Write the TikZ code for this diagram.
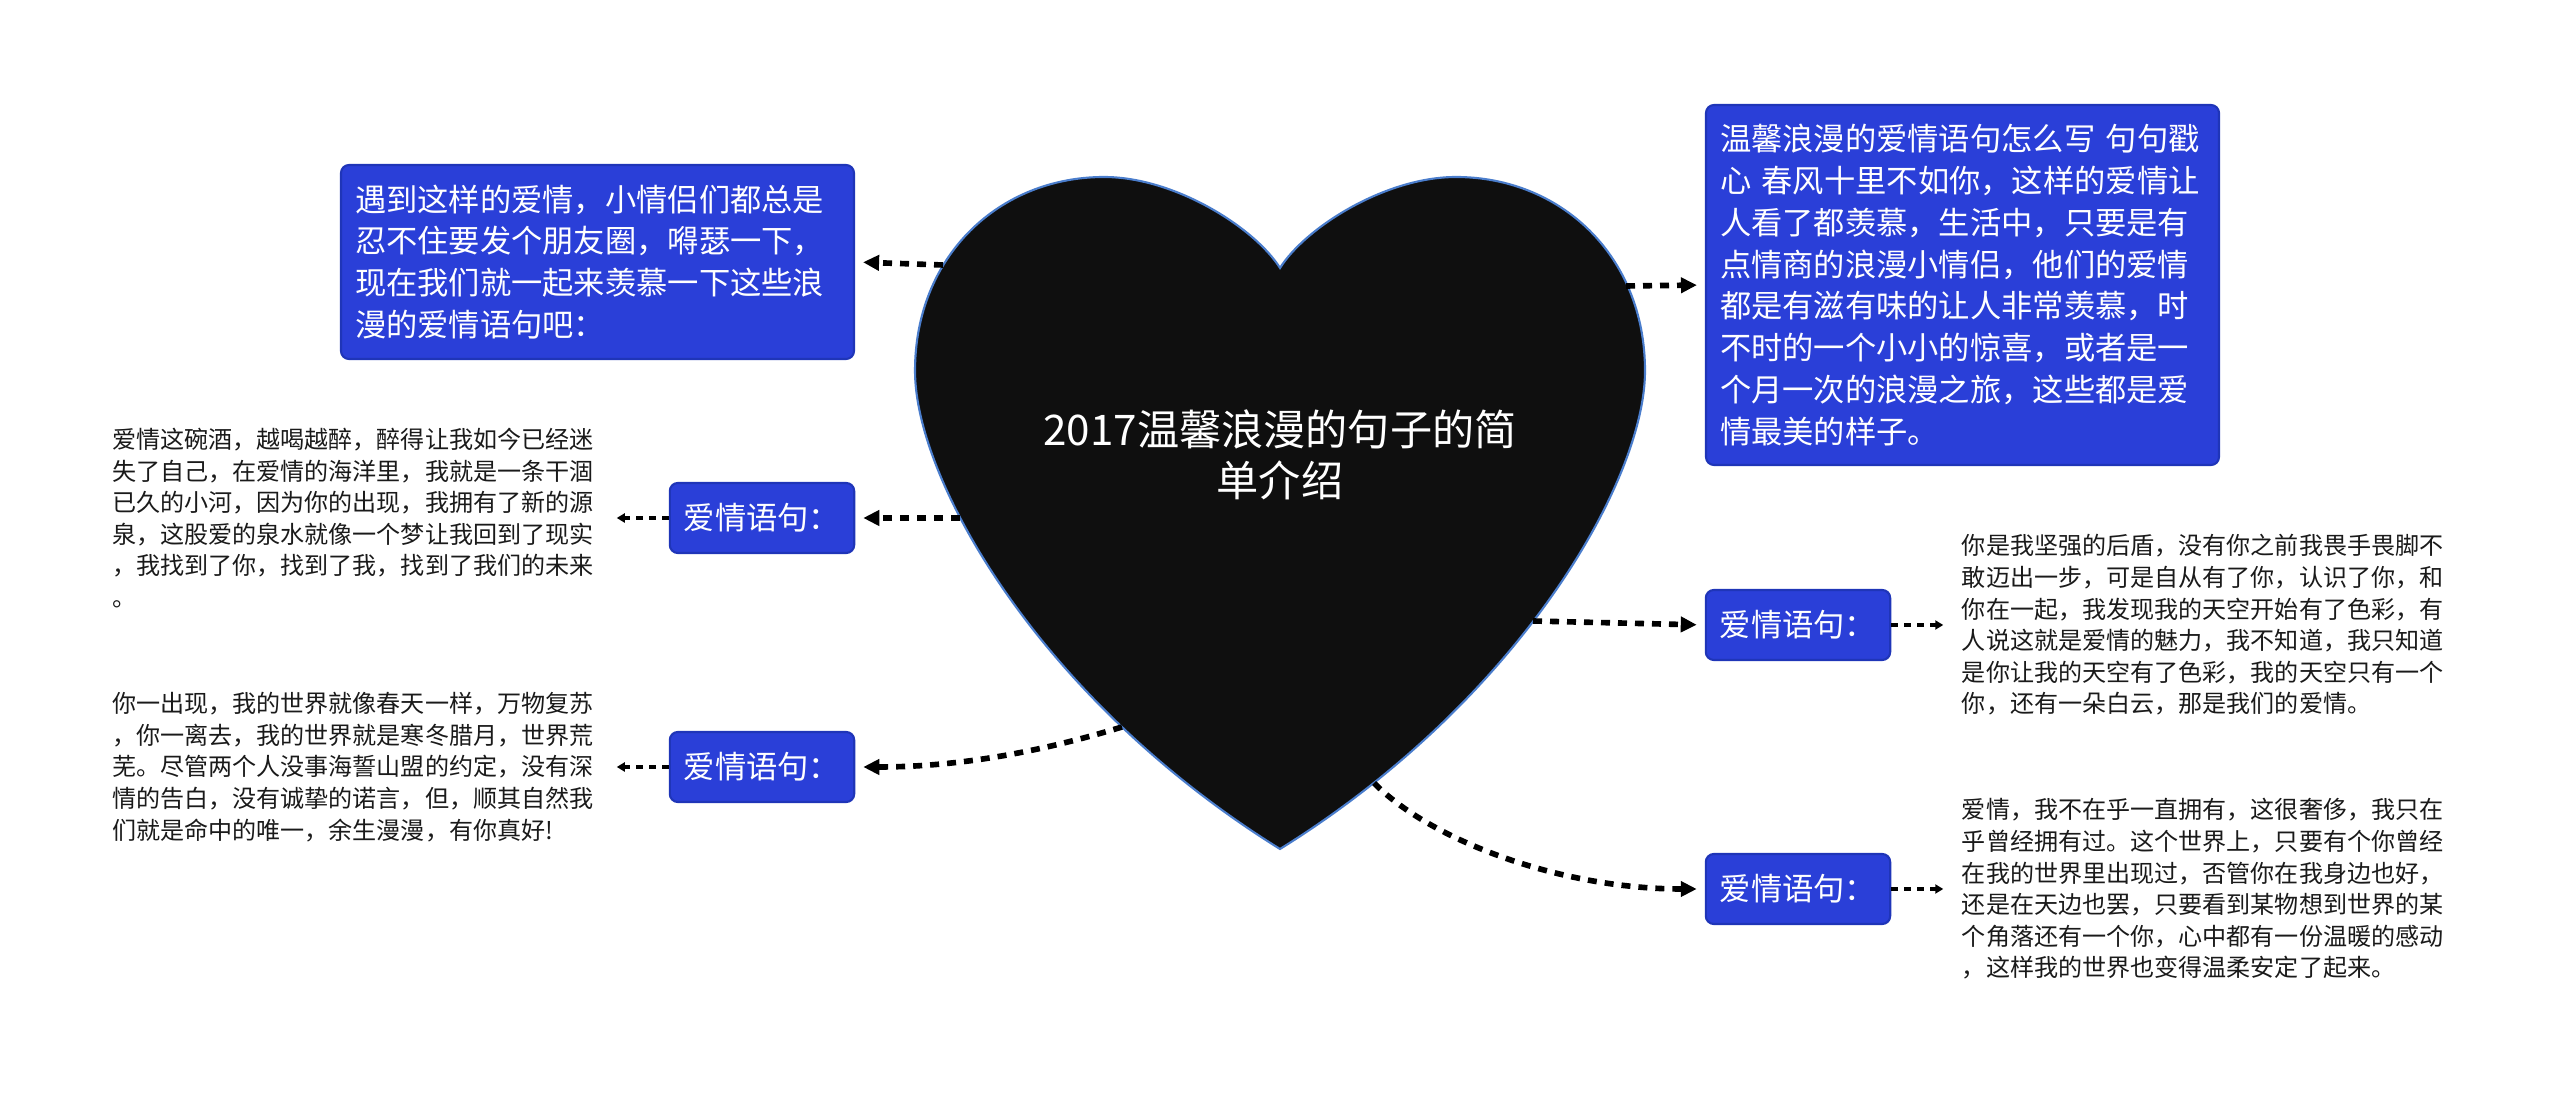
\documentclass[tikz,border=0pt]{standalone}
\usepackage{fontspec}
\setmainfont{Noto Sans CJK SC}
\usetikzlibrary{arrows.meta, positioning}
\definecolor{boxblue}{HTML}{2A3FD8}
\definecolor{boxedge}{HTML}{1F35B8}
\definecolor{heartfill}{HTML}{0F0F0F}
\definecolor{heartedge}{HTML}{4A7DCC}
\definecolor{notecolor}{HTML}{1A1A1A}

\begin{document}
\begin{tikzpicture}[
    x=1cm, y=-1cm,
    card/.style={
        rectangle, rounded corners=0.08cm, line width=0.6pt,
        draw=boxedge, fill=boxblue, text=white, align=left,
        font=\fontsize{8.9pt}{11.9pt}\selectfont,
        inner xsep=0.14cm, inner ysep=0.12cm,
    },
    tag/.style={card, align=center, minimum width=1.84cm, minimum height=0.70cm},
    note/.style={
        font=\fontsize{6.85pt}{9.0pt}\selectfont, text=notecolor,
        align=left, text width=4.86cm, inner sep=0pt,
    },
    link/.style={-{Triangle[length=0.16cm, width=0.15cm]}, line width=1.6pt,
        dash pattern=on 0.09cm off 0.08cm, shorten >=0.08cm},
    sublink/.style={-{Triangle[length=0.08cm, width=0.09cm]}, line width=1.0pt,
        dash pattern=on 0.07cm off 0.06cm, shorten >=0.18cm},
]
\useasboundingbox (0,0) rectangle (25.60,10.98);

% ---------------------------------------------------------------- heart
\draw[fill=heartfill, draw=heartedge, line width=0.6pt]
    (12.80,2.68) .. controls (12.55,2.28) and (11.75,1.77) .. (11.04,1.77)
    .. controls (10.00,1.77) and (9.15,2.55) .. (9.15,3.71)
    .. controls (9.15,4.80) and (10.40,7.00) .. (12.80,8.49)
    .. controls (15.20,7.00) and (16.45,4.80) .. (16.45,3.71)
    .. controls (16.45,2.55) and (15.60,1.77) .. (14.56,1.77)
    .. controls (13.85,1.77) and (13.05,2.28) .. (12.80,2.68) -- cycle;
\node[text=white, align=center, font=\fontsize{12pt}{14.4pt}\selectfont]
    (title) at (12.80,4.55) {2017温馨浪漫的句子的简\\单介绍};

\coordinate (hTL) at (9.43,2.65);
\coordinate (hL1) at (9.60,5.18);
\coordinate (hL2) at (11.22,7.27);
\coordinate (hTR) at (16.26,2.86);
\coordinate (hR1) at (15.33,6.21);
\coordinate (hR2) at (13.74,7.83);

% ---------------------------------------------------------------- left side
\node[card, text width=4.85cm, minimum height=1.94cm] (tl) at (5.975,2.62)
    {遇到这样的爱情，小情侣们都总是\\
     忍不住要发个朋友圈，嘚瑟一下，\\
     现在我们就一起来羡慕一下这些浪\\
     漫的爱情语句吧：};

\node[tag] (l1) at (7.62,5.18) {爱情语句：};
\node[tag] (l2) at (7.62,7.67) {爱情语句：};

\node[note, left=0.70cm of l1] (t1)
    {爱情这碗酒，越喝越醉，醉得让我如今已经迷\\
     失了自己，在爱情的海洋里，我就是一条干涸\\
     已久的小河，因为你的出现，我拥有了新的源\\
     泉，这股爱的泉水就像一个梦让我回到了现实\\
     ，我找到了你，找到了我，找到了我们的未来\\
     。};
\node[note, left=0.70cm of l2] (t2)
    {你一出现，我的世界就像春天一样，万物复苏\\
     ，你一离去，我的世界就是寒冬腊月，世界荒\\
     芜。尽管两个人没事海誓山盟的约定，没有深\\
     情的告白，没有诚挚的诺言，但，顺其自然我\\
     们就是命中的唯一，余生漫漫，有你真好!};

% ---------------------------------------------------------------- right side
\node[card, text width=4.85cm, minimum height=3.60cm] (tr) at (19.625,2.85)
    {温馨浪漫的爱情语句怎么写 句句戳\\
     心 春风十里不如你，这样的爱情让\\
     人看了都羡慕，生活中，只要是有\\
     点情商的浪漫小情侣，他们的爱情\\
     都是有滋有味的让人非常羡慕，时\\
     不时的一个小小的惊喜，或者是一\\
     个月一次的浪漫之旅，这些都是爱\\
     情最美的样子。};

\node[tag] (r1) at (17.98,6.25) {爱情语句：};
\node[tag] (r2) at (17.98,8.89) {爱情语句：};

\node[note, right=0.70cm of r1] (t3)
    {你是我坚强的后盾，没有你之前我畏手畏脚不\\
     敢迈出一步，可是自从有了你，认识了你，和\\
     你在一起，我发现我的天空开始有了色彩，有\\
     人说这就是爱情的魅力，我不知道，我只知道\\
     是你让我的天空有了色彩，我的天空只有一个\\
     你，还有一朵白云，那是我们的爱情。};
\node[note, right=0.70cm of r2] (t4)
    {爱情，我不在乎一直拥有，这很奢侈，我只在\\
     乎曾经拥有过。这个世界上，只要有个你曾经\\
     在我的世界里出现过，否管你在我身边也好，\\
     还是在天边也罢，只要看到某物想到世界的某\\
     个角落还有一个你，心中都有一份温暖的感动\\
     ，这样我的世界也变得温柔安定了起来。};

% ---------------------------------------------------------------- connectors
\draw[link] (hTL) -- (tl.east);
\draw[link] (hL1) -- (l1.east);
\draw[link] (hL2) .. controls (10.30,7.55) and (9.50,7.67) .. (l2.east);
\draw[link] (hTR) -- (tr.west);
\draw[link] (hR1) -- (r1.west);
\draw[link] (hR2) .. controls (14.30,8.40) and (15.60,8.89) .. (r2.west);

\draw[sublink] (l1.west) -- (t1.east);
\draw[sublink] (l2.west) -- (t2.east);
\draw[sublink] (r1.east) -- (t3.west);
\draw[sublink] (r2.east) -- (t4.west);

\end{tikzpicture}
\end{document}
